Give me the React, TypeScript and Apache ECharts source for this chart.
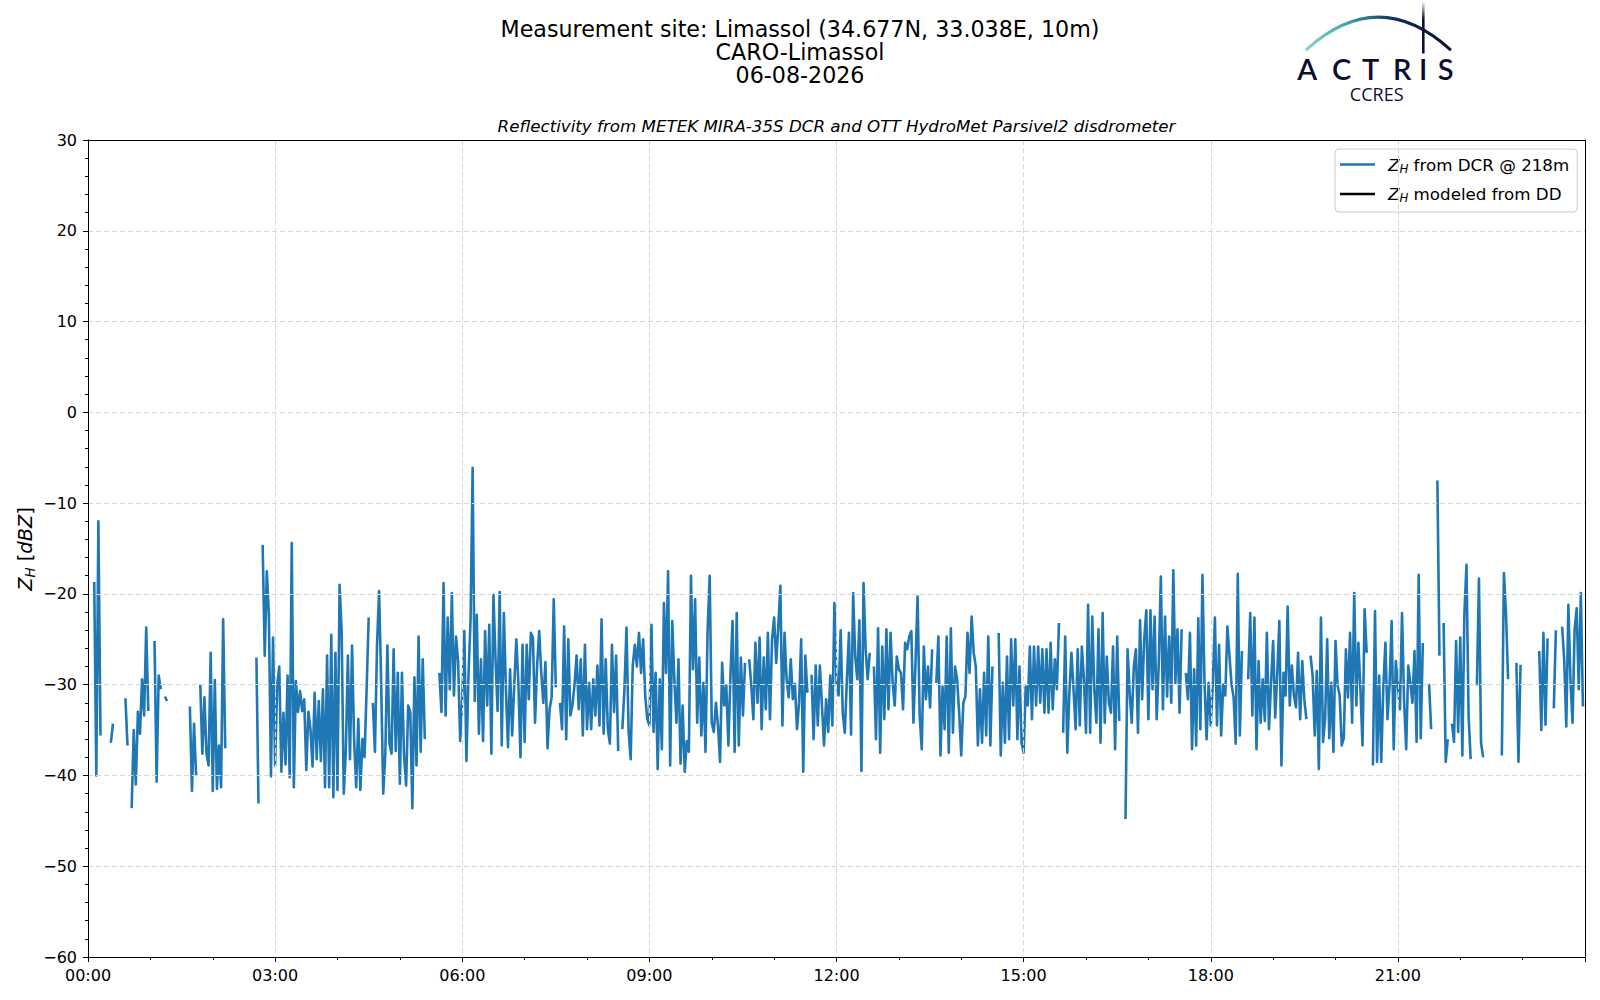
import React, { useEffect, useRef } from "react";
import * as echarts from "echarts";

// Z_H from DCR @ 218m, one value every 2 minutes, one array per hour (null = no data)
const zh00 = [null,null,null,-18.7,-40,-12,-35.6,null,null,null,null,-36.4,-34.3,null,null,null,null,null,-31.5,-36.7,null,-43.6,-35,-41,-33,-35.4,-29.4,-33.4,-23.7,-32.9];
const zh01 = [null,null,-25.2,-40.7,-29,-30.5,null,-31.3,-31.8,null,null,null,null,null,null,null,null,null,null,-32.4,-41.7,-34.3,-40,null,-30,-37.6,-31.4,-37.6,-38.9,-26.5];
const zh02 = [-41.7,-29.5,-41.5,-36.7,-41.3,-22.8,-37,null,null,null,null,null,null,null,null,null,null,null,null,null,null,-27,-43.1,null,-14.6,-26.8,-17.5,-22.4,-40.1,-24.8];
const zh03 = [-38.9,-30,-28,-39.6,-33.1,-38.8,-29,-40.2,-14.4,-41.3,-29.6,-33,-30.7,-32.9,-31.6,-39.4,-33,-34.9,-39,-30.9,-38.2,-31.8,-38.4,-30.5,-41.3,-26.8,-41.3,-24.5,-42.4,-26.5];
const zh04 = [-41.6,-19,-24.1,-42,-37.4,-26.8,-38.2,-25.7,-36.2,-41.3,-33.8,-41.6,-36,-38,-30.5,-22.6,null,-32,-37.4,-25.7,-19.7,-29.8,-42,-37.6,-25.7,-36.5,-37.6,-26.1,-37.3,-28.7];
const zh05 = [-40.9,-28.7,-37.8,-41.1,-32.3,-33,-43.6,-29.2,-38.9,-24.7,-37.4,-27.2,-36,null,null,null,null,null,null,-28.7,-33,-18.8,-33.4,-22.6,-30.5,-19.9,-31.2,-24.7,-27.4,-36.2];
const zh06 = [-31.6,-24.1,-38.4,-29,-22.8,-6.1,-31.8,-22.3,-35.4,-27.2,-36.2,-24.1,-32.3,-23.4,-37.6,-20.1,-27.2,-32.9,-19.8,-36.7,-22.1,-30.5,-36.9,-28.3,-35.6,-30.1,-25,-29.8,-38,-25.6];
const zh07 = [-36.3,-25.6,-31.6,-24.3,-24.8,-34.2,-27.9,-24.1,-28.7,-32,-27.5,-37,-32.7,-31.4,-20.6,-30.3,null,-32,-34.9,-23.6,-36,-25,-33.4,-32.3,-30,-26.8,-32.7,-27.2,-35.6,-25.6];
const zh08 = [-34.9,-29.8,-34.9,-29.4,-33.4,-27.9,-34.5,-22.8,-35.4,-27.2,-34.9,-36.5,-25.6,-33,-26.8,-37.3,null,-34.9,-30.5,-23.7,-35.1,-38.2,-27.9,-25.6,-28,-24.3,-28.7,-25,-31.2,-33.8];
const zh09 = [-34.5,-23.4,-35.2,-28.7,-39.3,-29.4,-37.1,-21,-28.7,-17.5,-38.9,-23,-29.4,-34.2,-27.2,-38.7,-32.3,-39.6,-36.2,-37.4,-18,-28.3,-20.6,-34.2,-27,-35.6,-29.8,-37.4,-24.1,-18];
const zh10 = [-34.2,-35.2,-32,-34.5,-38.5,-27.6,-32.3,-30.1,-36.7,-29,-23,-37.4,-22.1,-36.7,-27,-33.4,-27.6,null,-27.2,-30,-33.8,-25.4,-32,-24.8,-34.9,-27,-32.7,-24.3,-33.8,-25];
const zh11 = [-22.6,-27.6,-23.6,-19.1,-34.5,-24.3,-29.4,-31.4,-27.2,-31.6,-29.9,-34.9,-32,-25,-39.6,-26.8,-30.9,null,-28.9,-36,-27.9,-34.5,-27.9,-32.3,-36.7,-31.6,-35.2,-29,-34.5,-21];
const zh12 = [-29.8,-31.2,-24,-33.1,-35.3,-29.4,-24.3,-35.5,-19.9,-26.9,-29.4,-22.9,-39.5,-18.8,-26.1,-29.4,-26.5,null,-28,-36,-23.8,-37.5,-25.8,-33.8,-23.9,-32.7,-24.3,-29.8,-32.3,-26.9];
const zh13 = [-28.3,-28.7,-32.7,-25.4,-26.1,-24.7,-24.1,-34.2,-27.6,-20.3,-33.4,-37.1,-25.8,-31.6,-28,-32.5,-26.1,null,-29.8,-24.7,-37.8,-30.2,-34.9,-24.7,-37.5,-23.8,-35.3,-28,-29.4,-33.1];
const zh14 = [-37.8,-32,-31.3,-24.3,-28.7,-22.5,-26.5,-28,-36.7,-30.5,-36.4,-28.7,-35.6,-24.7,-36.7,-28,null,null,-24.3,-37.8,-29.8,-36.4,-26.9,-36,-25,-32.3,-25,-36,-28,-36.4];
const zh15 = [-37.5,-30.2,-32.3,-25.8,-33.8,-25.8,-32.3,-25.8,-32,-26.1,-33.1,-26.1,-33.1,-25.4,-32.7,-27.2,-30.5,-23.2,null,-35.3,-24.7,-37.5,-30.9,-26.5,-30.5,-34.9,-26.1,-34.5,-25.8,-29.4];
const zh16 = [-35.3,-21.2,-35.3,-22.5,-30.5,-34.2,-23.9,-36.4,-22.1,-34.2,-26.9,-32,-33.1,-25.8,-37.1,-24.7,-34,null,null,-44.8,-26.1,-30.9,-34.2,-28,-26.1,-35.3,-22.9,-31.6,-25,-21.8];
const zh17 = [-33.8,-21.8,-30.5,-22.5,-33.8,-27.6,-18.1,-32.7,-22.5,-31.3,-24.7,-32,-17.4,-29.8,-23.9,-33.1,-23.9,null,-28.7,-31.6,-24.3,-37.1,-28.3,-36.7,-22.7,-34.9,-17.9,-29.8,-36,-29.8];
const zh18 = [-34.5,-29.8,-22.6,-34.5,-25.6,-35.6,-30,-31.2,-23.6,-26.8,-30,-31.4,-36.5,-17.8,-35.6,-26.3,null,null,-29.4,-22.1,-33.4,-22.6,-37.1,-27.4,-34.2,-29.4,-34,-24.3,-34.9,-29.8];
const zh19 = [-25.2,-33.6,-28.7,-23,-38.9,-28.7,-31.2,-21.4,-32.3,-27.9,-31.2,-32.5,-26.5,-33.8,-27.4,-31.6,-33.8,null,-26.8,-29,-35.6,-28.5,-39.3,-22.6,-36.3,-33.8,-25,-35.9,-29.8,-37.4];
const zh20 = [-25.2,-30.1,-31.2,-36.7,-35.9,-26.1,-31.4,-24.3,-34.2,-19.9,-32.3,-25.4,-30.5,-36.7,-21.7,-26.5,null,null,-38.9,-21.9,-38.5,-29,-38.5,-30.3,-25.4,-33.8,-30,-23,-37.1,-27.4];
const zh21 = [-30.1,-32.7,-22.1,-32,-37.1,-27.9,-29.8,-32,-26.3,-36.3,-17.9,-35.9,-25.4,null,null,-29.9,-34.9,null,null,-7.5,-26.8,null,-23.2,-38.5,-36,null,-34.3,-36.3,-25.2,-35.2];
const zh22 = [-24.8,-37.8,-22.1,-16.8,-33.4,-38.2,null,null,-30.1,-18.3,-36.4,-38,null,null,null,null,null,null,null,null,-37.8,-17.7,-22.1,-29.4,null,null,null,-27.6,-38.5,-27.8];
const zh23 = [null,null,null,null,null,null,null,null,-26.3,-35,-24.3,-34.4,-24.9,null,null,-32.6,-24,null,null,-23.6,-27.3,-34.6,-21.2,-29.5,-34.2,-24,-21.6,-30.5,-19.9,-32.4];

// Z_H modeled from DD: no data on this day
const zhDD: number[][] = [];

const HOURLY = [zh00, zh01, zh02, zh03, zh04, zh05, zh06, zh07, zh08, zh09, zh10, zh11,
  zh12, zh13, zh14, zh15, zh16, zh17, zh18, zh19, zh20, zh21, zh22, zh23];
const STEP_MIN = 2;

const X_TICK_LABELS = ["00:00", "03:00", "06:00", "09:00", "12:00", "15:00", "18:00", "21:00"];
const X_MIN = 0, X_MAX = 1440, X_INTERVAL = 180;
const Y_MIN = -60, Y_MAX = 30, Y_INTERVAL = 10;

const TITLE_LINES = ["Measurement site: Limassol (34.677N, 33.038E, 10m)", "CARO-Limassol", "06-08-2026"];
const SUBTITLE = "Reflectivity from METEK MIRA-35S DCR and OTT HydroMet Parsivel2 disdrometer";
const NAME_DCR = "ZH from DCR @ 218m";
const NAME_DD = "ZH modeled from DD";

const FONT = "DejaVu Sans";
const NAVY = "#0d0d33";

function buildDcr() {
  const out: any[] = [];
  HOURLY.forEach((arr, h) => {
    arr.forEach((v, j) => {
      out.push([h * 60 + j * STEP_MIN, v === null ? "-" : v]);
    });
  });
  return out;
}

export default function App() {
  const ref = useRef<HTMLDivElement>(null);
  useEffect(() => {
    if (!ref.current) return;
    const chart = echarts.init(ref.current, null, { renderer: "svg" });
    const letters = [
      { t: "A", x: 1307.3 }, { t: "C", x: 1341.7 }, { t: "T", x: 1370.7 },
      { t: "R", x: 1402.3 }, { t: "I", x: 1423.3 }, { t: "S", x: 1445.7 },
    ];
    const legendRich = {
      z: { fontFamily: FONT, fontStyle: "italic", fontSize: 16.7, lineHeight: 20, color: "#000" },
      s: { fontFamily: FONT, fontStyle: "italic", fontSize: 11.8, lineHeight: 12, verticalAlign: "bottom", color: "#000" },
      t: { fontFamily: FONT, fontSize: 16.7, lineHeight: 20, color: "#000" },
    };
    const gridLine = { show: true, lineStyle: { color: "#d6d6d6", width: 1, type: [5, 3] } };
    const frameAxis = {
      axisLine: { show: true, onZero: false, lineStyle: { color: "#000", width: 1 } },
      axisTick: { show: false }, axisLabel: { show: false }, splitLine: { show: false },
      z: 10,
    };
    const option: any = {
      animation: false,
      backgroundColor: "#fff",
      grid: { left: 88, right: 15, top: 140, bottom: 43 },
      xAxis: [
        {
          type: "value", min: X_MIN, max: X_MAX, interval: X_INTERVAL, position: "bottom", z: 10,
          axisLine: { onZero: false, lineStyle: { color: "#000", width: 1 } },
          axisTick: { show: true, length: 5, lineStyle: { color: "#000", width: 1 } },
          minorTick: { show: true, splitNumber: 3, length: 3, lineStyle: { color: "#000", width: 1 } },
          splitLine: gridLine,
          axisLabel: {
            margin: 10, color: "#000", fontFamily: FONT, fontSize: 16, showMaxLabel: false,
            formatter: (v: number) => (v >= X_MAX ? "" : X_TICK_LABELS[Math.round(v / X_INTERVAL)] || ""),
          },
        },
        { type: "value", min: X_MIN, max: X_MAX, interval: X_INTERVAL, position: "top", ...frameAxis },
      ],
      yAxis: [
        {
          type: "value", min: Y_MIN, max: Y_MAX, interval: Y_INTERVAL, position: "left", z: 10,
          axisLine: { show: true, onZero: false, lineStyle: { color: "#000", width: 1 } },
          axisTick: { show: true, length: 5, lineStyle: { color: "#000", width: 1 } },
          minorTick: { show: true, splitNumber: 5, length: 3, lineStyle: { color: "#000", width: 1 } },
          splitLine: gridLine,
          axisLabel: {
            margin: 11, color: "#000", fontFamily: FONT, fontSize: 16,
            formatter: (v: number) => (v < 0 ? "\u2212" + Math.abs(v) : String(v)),
          },
        },
        { type: "value", min: Y_MIN, max: Y_MAX, interval: Y_INTERVAL, position: "right", ...frameAxis },
      ],
      legend: {
        orient: "vertical", left: 1335, top: 149,
        data: [NAME_DCR, NAME_DD],
        icon: "rect", itemWidth: 35, itemHeight: 2.6, itemGap: 11,
        padding: [7, 8, 8, 5],
        backgroundColor: "rgba(255,255,255,0.8)", borderColor: "#cccccc", borderWidth: 1, borderRadius: 4,
        textStyle: { fontFamily: FONT, fontSize: 16.7, color: "#000", padding: [0, 0, 0, 8], rich: legendRich },
        formatter: (name: string) =>
          name === NAME_DCR ? "{z|Z}{s|H}{t| from DCR @ 218m}" : "{z|Z}{s|H}{t| modeled from DD}",
        selectedMode: false,
      },
      series: [
        {
          name: NAME_DCR, type: "line", data: buildDcr(), showSymbol: false, symbol: "none",
          connectNulls: false, clip: true,
          lineStyle: { color: "#1f77b4", width: 2.6, join: "round" }, itemStyle: { color: "#1f77b4" },
        },
        {
          name: NAME_DD, type: "line", data: zhDD, showSymbol: false, symbol: "none",
          lineStyle: { color: "#000", width: 2.6 }, itemStyle: { color: "#000" },
        },
      ],
      graphic: {
        elements: [
          ...TITLE_LINES.map((t, i) => ({
            type: "text", x: 800, y: 29 + i * 23.2,
            style: { text: t, fontFamily: FONT, fontSize: 22.2, lineHeight: 23, fill: "#000", align: "center", verticalAlign: "middle" },
          })),
          {
            type: "text", x: 836.5, y: 125.5,
            style: { text: SUBTITLE, fontFamily: FONT, fontStyle: "italic", fontSize: 16.7, fill: "#000", align: "center", verticalAlign: "middle" },
          },
          {
            type: "text", x: 25, y: 549, rotation: Math.PI / 2,
            style: {
              text: "{z|Z}{s|H}{n| [}{i|dBZ}{n|]}", align: "center", verticalAlign: "middle", fill: "#000",
              rich: {
                z: { fontFamily: FONT, fontStyle: "italic", fontSize: 19.4, lineHeight: 24, fill: "#000" },
                s: { fontFamily: FONT, fontStyle: "italic", fontSize: 13.5, lineHeight: 14, verticalAlign: "bottom", fill: "#000" },
                n: { fontFamily: FONT, fontSize: 19.4, lineHeight: 24, fill: "#000" },
                i: { fontFamily: FONT, fontStyle: "italic", fontSize: 19.4, lineHeight: 24, fill: "#000" },
              },
            },
          },
          // ACTRIS CCRES logo
          {
            type: "bezierCurve",
            shape: { x1: 1306.7, y1: 49.3, x2: 1450, y2: 49.3, cpx1: 1378.4, cpy1: -15 },
            style: {
              fill: null, lineWidth: 3, lineCap: "round",
              stroke: new echarts.graphic.LinearGradient(0, 0, 1, 0, [
                { offset: 0, color: "#86d3cc" },
                { offset: 0.3, color: "#3f9fa6" },
                { offset: 0.6, color: "#13305a" },
                { offset: 1, color: NAVY },
              ]),
            },
          },
          {
            type: "rect",
            shape: { x: 1422, y: 1, width: 2.6, height: 52.5 },
            style: {
              fill: new echarts.graphic.LinearGradient(0, 0, 0, 1, [
                { offset: 0, color: "rgba(13,13,51,0)" },
                { offset: 0.35, color: NAVY },
                { offset: 1, color: NAVY },
              ]),
            },
          },
          ...letters.map((l) => ({
            type: "text", x: l.x, y: 68,
            style: { text: l.t, fontFamily: "Lato", fontSize: 29, lineHeight: 21, fontWeight: 600, fill: NAVY, align: "center", verticalAlign: "middle" },
          })),
          {
            type: "text", x: 1376.7, y: 93.5,
            style: { text: "CCRES", fontFamily: "Open Sans", fontSize: 18, lineHeight: 13, fill: NAVY, align: "center", verticalAlign: "middle" },
          },
        ],
      },
    };
    chart.setOption(option);
    return () => chart.dispose();
  }, []);
  return <div ref={ref} style={{ position: "absolute", left: 0, top: 0, width: 1600, height: 1000 }} />;
}
